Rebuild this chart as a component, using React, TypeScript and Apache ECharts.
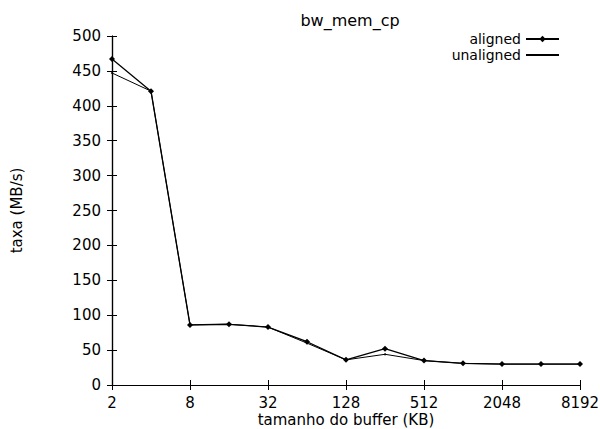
import React, { useEffect, useRef } from "react";
import * as echarts from "echarts";

// Buffer sizes in KB (powers of two) and measured copy throughput in MB/s
const bufferKB = [2, 4, 8, 16, 32, 64, 128, 256, 512, 1024, 2048, 4096, 8192];
const aligned = [467, 421, 86, 87, 83, 62, 36, 52, 35, 31, 30, 30, 30];
const unaligned = [447, 421, 86, 87, 83, 60, 36, 44, 35, 31, 30, 30, 30];
const xTickLabels = ["2", "8", "32", "128", "512", "2048", "8192"];

const FONT = "DejaVu Sans";

// x position = number of doublings above 2 KB
const toX = (kb: number) => Math.log2(kb) - 1;

export default function App() {
  const ref = useRef<HTMLDivElement>(null);

  useEffect(() => {
    if (!ref.current) return;
    const chart = echarts.init(ref.current, undefined, { renderer: "svg" });
    const axisLine = { show: true, lineStyle: { color: "#000", width: 1.2 } };
    const tick = { show: true, inside: true, length: 5, lineStyle: { color: "#000", width: 1 } };

    chart.setOption({
      animation: false,
      backgroundColor: "#fff",
      title: {
        text: "bw_mem_cp",
        left: 345,
        top: 7,
        textAlign: "center",
        textStyle: { fontFamily: FONT, fontSize: 16, fontWeight: "normal", color: "#000" },
      },
      legend: {
        orient: "vertical",
        right: 40,
        top: 32,
        padding: 0,
        align: "right",
        itemWidth: 33,
        itemHeight: 8,
        itemGap: 2,
        textStyle: { fontFamily: FONT, fontSize: 14, color: "#000", lineHeight: 14 },
        data: [
          { name: "aligned" },
          { name: "unaligned", itemStyle: { color: "transparent", borderWidth: 0 } },
        ],
      },
      grid: { left: 112, right: 20, top: 36, bottom: 44, outerBoundsMode: "none" },
      xAxis: [
        {
          type: "value",
          min: 0,
          max: 12,
          interval: 2,
          name: "tamanho do buffer (KB)",
          nameLocation: "middle",
          nameGap: 27,
          nameMoveOverlap: false,
          nameTextStyle: { fontFamily: FONT, fontSize: 15, color: "#000", lineHeight: 15 },
          axisLine,
          axisTick: tick,
          splitLine: { show: false },
          axisLabel: {
            margin: 11,
            fontFamily: FONT,
            fontSize: 15,
            lineHeight: 14,
            color: "#000",
            formatter: (v: number) => xTickLabels[Math.round(v / 2)] ?? "",
          },
        },
        {
          type: "value",
          position: "top",
          min: 0,
          max: 12,
          interval: 2,
          axisLine,
          axisTick: tick,
          axisLabel: { show: false },
          splitLine: { show: false },
        },
      ],
      yAxis: [
        {
          type: "value",
          min: 0,
          max: 500,
          interval: 50,
          name: "taxa (MB/s)",
          nameLocation: "middle",
          nameGap: 88,
          nameMoveOverlap: false,
          nameTextStyle: { fontFamily: FONT, fontSize: 15, color: "#000" },
          axisLine,
          axisTick: tick,
          splitLine: { show: false },
          axisLabel: { margin: 11, fontFamily: FONT, fontSize: 15, color: "#000" },
        },
        {
          type: "value",
          position: "right",
          min: 0,
          max: 500,
          interval: 50,
          axisLine,
          axisTick: tick,
          axisLabel: { show: false },
          splitLine: { show: false },
        },
      ],
      series: [
        {
          name: "aligned",
          type: "line",
          data: bufferKB.map((kb, i) => [toX(kb), aligned[i]]),
          symbol: "diamond",
          symbolSize: 6,
          showSymbol: true,
          lineStyle: { color: "#000", width: 1.3 },
          itemStyle: { color: "#000" },
        },
        {
          name: "unaligned",
          type: "line",
          data: bufferKB.map((kb, i) => [toX(kb), unaligned[i]]),
          symbol: "circle",
          symbolSize: 2,
          lineStyle: { color: "#000", width: 1 },
          itemStyle: { color: "#000" },
        },
      ],
    });

    return () => chart.dispose();
  }, []);

  return <div ref={ref} style={{ width: 600, height: 429, position: "absolute", left: 0, top: 0 }} />;
}
